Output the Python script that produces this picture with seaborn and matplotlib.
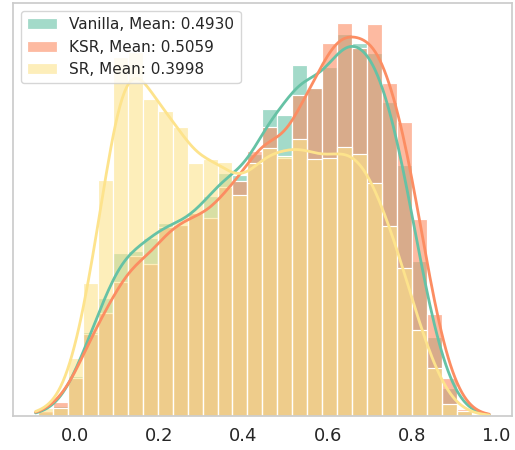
import numpy as np
import seaborn as sns
import matplotlib.pyplot as plt

# bin range of the shared histogram (30 bins)
bin_lo, bin_hi, n_bins = -0.087, 0.977, 30

# counts per bin (arbitrary units)
vanilla = [4, 10, 40, 84, 118, 163, 165, 178, 193, 191,
           203, 220, 243, 241, 262, 307, 301, 351, 328, 349,
           382, 373, 363, 314, 251, 155, 79, 28, 5, 1]
ksr = [5, 14, 38, 82, 103, 134, 160, 152, 189, 191,
       203, 198, 229, 235, 265, 289, 258, 321, 328, 373,
       393, 368, 392, 333, 294, 197, 102, 38, 7, 1]
sr = [8, 8, 58, 133, 236, 359, 364, 317, 305, 289,
      253, 257, 254, 221, 253, 268, 260, 277, 257, 258,
      269, 262, 233, 190, 148, 86, 48, 12, 5, 0]

labels = ["Vanilla, Mean: 0.4930", "KSR, Mean: 0.5059", "SR, Mean: 0.3998"]
colors = ["#66c2a5", "#fc8d62", "#fde38c"]

edges = np.linspace(bin_lo, bin_hi, n_bins + 1)
centers = (edges[:-1] + edges[1:]) / 2

sns.set_theme(style="white")
fig, ax = plt.subplots(figsize=(5.15, 4.5), dpi=100)

# draw one after another so SR ends up on top
for vals, lab, col in zip([vanilla, ksr, sr], labels, colors):
    sns.histplot(
        x=centers, weights=vals, bins=n_bins, binrange=(bin_lo, bin_hi),
        kde=True, color=col, alpha=0.6, label=lab,
        kde_kws={"bw_adjust": 0.3, "cut": 0.5},
        line_kws={"linewidth": 2},
        ax=ax,
    )

for s in ax.spines.values():
    s.set_color("#cccccc")
    s.set_linewidth(1.25)

ax.set_xlabel("")
ax.set_ylabel("")
ax.set_yticks([])
ax.set_xticks([0.0, 0.2, 0.4, 0.6, 0.8, 1.0])
ax.tick_params(axis="x", labelsize=13, colors="#262626", length=0, pad=8)

ax.legend(loc="upper left", fontsize=11, frameon=True)

fig.subplots_adjust(left=0.025, right=0.994, bottom=0.076, top=0.993)
fig.savefig("out.png", dpi=100)
